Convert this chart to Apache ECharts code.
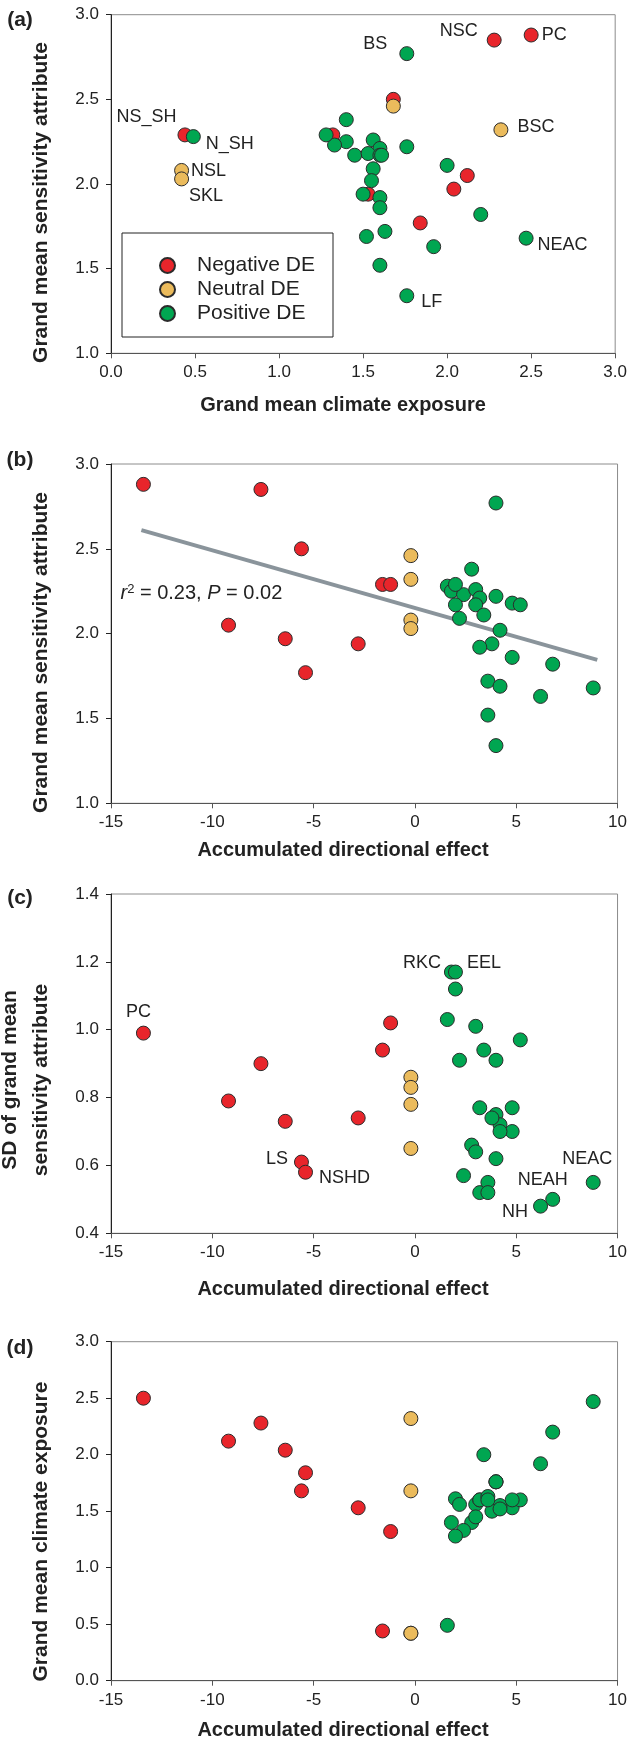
<!DOCTYPE html>
<html>
<head>
<meta charset="utf-8">
<script src="https://cdn.jsdelivr.net/npm/echarts@6/dist/echarts.min.js"></script>
<style>html,body{margin:0;padding:0;background:#fff}#main{width:630px;height:1742px}</style>
</head>
<body>
<div id="main"></div>
<script>
// ---------- data (one entry per stock) ----------
var names = ['PC','NSC','LS','NS_SH','','','','','NSHD',
    'BSC','','NSL','SKL',
    'BS','','N_SH','RKC','','EEL','','','','','','','','','','','','','','NEAH','','','NEAC','NH','','LF'];
// 0 negative DE, 1 neutral DE, 2 positive DE
var groups = [0,0,0,0,0,0,0,0,0,
    1,1,1,1,
    2,2,2,2,2,2,2,2,2,2,2,2,2,2,2,2,2,2,2,2,2,2,2,2,2,2];
var exposure = [2.50,2.28,1.68,0.44,1.32,2.12,2.04,1.53,1.84,
    2.32,1.68,0.42,0.42,
    1.76,1.40,0.49,1.40,1.33,1.28,1.56,1.60,1.76,1.45,1.53,1.60,1.61,2.00,1.56,1.55,1.50,1.60,1.60,2.20,1.63,1.52,2.47,1.92,1.60,1.76];
var sensitivity = [2.88,2.85,2.50,2.29,2.29,2.05,1.97,1.94,1.77,
    2.32,2.46,2.08,2.03,
    2.77,2.38,2.28,2.25,2.23,2.29,2.26,2.21,2.22,2.17,2.18,2.17,2.17,2.11,2.09,2.02,1.94,1.92,1.86,1.82,1.72,1.69,1.68,1.63,1.52,1.34];
var dirEffect = [-13.4,-7.6,-5.6,-1.6,-1.2,-9.2,-6.4,-2.8,-5.4,
    -0.2,-0.2,-0.2,-0.2,
    4.0,2.8,1.6,1.8,2.4,2.0,3.0,3.2,4.0,3.0,4.8,5.2,2.0,3.4,2.2,4.2,3.8,3.2,4.8,6.8,3.6,4.2,8.8,6.2,3.6,4.0];
var sdSens = [0.99,0.90,0.61,0.94,1.02,0.79,0.73,0.74,0.58,
    0.65,0.86,0.83,0.78,
    0.91,0.66,1.03,1.17,0.57,1.17,1.01,0.77,0.75,0.64,0.77,0.97,1.12,0.94,0.91,0.72,0.74,0.52,0.70,0.50,0.55,0.70,0.55,0.48,0.52,0.62];
var groupNames = ['Negative DE','Neutral DE','Positive DE'];
// regression line in (b)
var fitX = [-13.5, 9.0];
var fitY = [2.61, 1.845];

// ---------- styles ----------
var font = 'Liberation Sans, Arial, Helvetica, sans-serif';
var colors = ['#e8252b','#ebbb5c','#00a651'];

// label placement for the named stocks
var labelsA = {
    PC: {position:'right', distance:3, offset:[0,0]},
    NSC: {position:'left', distance:9, offset:[0,-9]},
    BS: {position:'left', distance:12, offset:[0,-10]},
    NS_SH: {position:'left', distance:1, offset:[0,-18]},
    N_SH: {position:'right', distance:5, offset:[0,7]},
    NSL: {position:'right', distance:2, offset:[0,1]},
    SKL: {position:'right', distance:0, offset:[0,17]},
    BSC: {position:'right', distance:9, offset:[0,-3]},
    NEAC: {position:'right', distance:4, offset:[0,7]},
    LF: {position:'right', distance:7, offset:[0,6]}
};
var labelsC = {
    PC: {position:'top', distance:5, offset:[-5,0]},
    LS: {position:'left', distance:6, offset:[0,-3]},
    NSHD: {position:'right', distance:6, offset:[0,6]},
    RKC: {position:'left', distance:3, offset:[0,-9]},
    EEL: {position:'right', distance:4, offset:[0,-9]},
    NH: {position:'left', distance:5, offset:[0,6]},
    NEAH: {position:'top', distance:3, offset:[-10,0]},
    NEAC: {position:'top', distance:7, offset:[-6,0]}
};

function points(xs, ys, g, labels) {
    var out = [];
    for (var i = 0; i < names.length; i++) {
        if (groups[i] !== g) continue;
        var item = {name: names[i], value: [xs[i], ys[i]]};
        var l = labels && labels[names[i]];
        if (l) {
            item.label = {show: true, formatter: names[i], position: l.position,
                distance: l.distance, offset: l.offset};
        }
        out.push(item);
    }
    return out;
}

var panels = [
    {x: exposure, y: sensitivity, labels: labelsA},
    {x: dirEffect, y: sensitivity, labels: null},
    {x: dirEffect, y: sdSens, labels: labelsC},
    {x: dirEffect, y: exposure, labels: null}
];
var gridTops = [14.7, 464, 894, 1341.7];
var gridHeights = [338.6, 339.3, 339.3, 339];

function xAx(i, min, max, step, dec) {
    return {
        gridIndex: i, type: 'value', min: min, max: max, interval: step,
        axisLine: {show: true, onZero: false, lineStyle: {color: '#555', width: 1}},
        axisTick: {show: true, length: 5, lineStyle: {color: '#555'}},
        axisLabel: {margin: 11, fontSize: 17, color: '#222', fontFamily: font,
            formatter: function (v) { return v.toFixed(dec); }},
        splitLine: {show: false}
    };
}
function yAx(i, min, max, step) {
    return {
        gridIndex: i, type: 'value', min: min, max: max, interval: step,
        axisLine: {show: true, onZero: false, lineStyle: {color: '#222', width: 1}},
        axisTick: {show: true, length: 5, lineStyle: {color: '#222'}},
        axisLabel: {margin: 12, fontSize: 17, color: '#222', fontFamily: font,
            formatter: function (v) { return v.toFixed(1); }},
        splitLine: {show: false}
    };
}

var series = [{
    type: 'line', xAxisIndex: 1, yAxisIndex: 1, silent: true, symbol: 'none', z: 1,
    data: fitX.map(function (x, i) { return [x, fitY[i]]; }),
    lineStyle: {color: '#8a949b', width: 4}
}];
panels.forEach(function (p, pi) {
    for (var g = 0; g < 3; g++) {
        series.push({
            name: groupNames[g], type: 'scatter', xAxisIndex: pi, yAxisIndex: pi,
            symbolSize: 14, z: 3,
            itemStyle: {color: colors[g], borderColor: '#2b2b2b', borderWidth: 1, opacity: 1},
            label: {show: false, color: '#222', fontSize: 18, fontFamily: font},
            data: points(p.x, p.y, g, p.labels)
        });
    }
});

function txt(t, x, y, size, bold, rot) {
    return {
        type: 'text', x: x, y: y, rotation: rot || 0, z: 10,
        style: {text: t, fill: '#222', font: (bold ? 'bold ' : '') + size + 'px ' + font,
            textAlign: 'center', align: 'center', textVerticalAlign: 'middle', verticalAlign: 'middle'}
    };
}
var R = Math.PI / 2;

var chart = echarts.init(document.getElementById('main'));
chart.setOption({
    animation: false,
    textStyle: {fontFamily: font},
    grid: gridTops.map(function (t, i) {
        return {left: 111, top: t, width: 509, height: gridHeights[i], show: true,
            borderColor: '#8c8c8c', borderWidth: 1};
    }),
    xAxis: [xAx(0, 0, 3, 0.5, 1), xAx(1, -15, 10, 5, 0), xAx(2, -15, 10, 5, 0), xAx(3, -15, 10, 5, 0)],
    yAxis: [yAx(0, 1, 3, 0.5), yAx(1, 1, 3, 0.5), yAx(2, 0.4, 1.4, 0.2), yAx(3, 0, 3, 0.5)],
    legend: {
        left: 154, top: 250, orient: 'vertical', itemWidth: 15, itemHeight: 15, itemGap: 3,
        icon: 'circle', selectedMode: false, data: groupNames,
        textStyle: {fontSize: 21, color: '#222', fontFamily: font, padding: [0, 0, 0, 17], lineHeight: 15}
    },
    graphic: [
        {type: 'rect', z: 5, shape: {x: 122, y: 233, width: 211, height: 104},
            style: {fill: 'none', stroke: '#222', lineWidth: 1}},
        txt('(a)', 20, 20, 21, true), txt('(b)', 20, 460, 21, true),
        txt('(c)', 20, 898, 21, true), txt('(d)', 20, 1348, 21, true),
        txt('Grand mean climate exposure', 343, 405, 20, true),
        txt('Accumulated directional effect', 343, 850.5, 20, true),
        txt('Accumulated directional effect', 343, 1289, 20, true),
        txt('Accumulated directional effect', 343, 1730, 20, true),
        txt('Grand mean sensitivity attribute', 41, 202.5, 21, true, R),
        txt('Grand mean sensitivity attribute', 41, 652.5, 21, true, R),
        txt('SD of grand mean', 10, 1080, 21, true, R),
        txt('sensitivity attribute', 41, 1080, 21, true, R),
        txt('Grand mean climate exposure', 41, 1531.5, 21, true, R),
        {
            type: 'text', x: 120.5, y: 593, z: 10,
            style: {
                text: '{i|r}{s|2}{n| = 0.23, }{i|P}{n| = 0.02}',
                textVerticalAlign: 'middle', verticalAlign: 'middle', fill: '#222',
                font: '20px ' + font,
                rich: {
                    i: {fontStyle: 'italic', fontSize: 20, fontFamily: font, fill: '#222'},
                    s: {fontSize: 13, fontFamily: font, verticalAlign: 'top', fill: '#222'},
                    n: {fontSize: 20, fontFamily: font, fill: '#222'}
                }
            }
        }
    ],
    series: series
});
</script>
</body>
</html>
